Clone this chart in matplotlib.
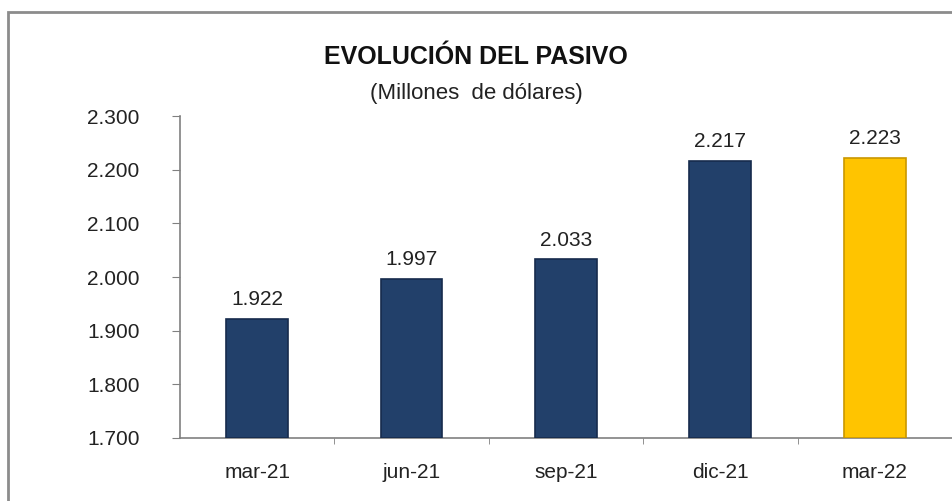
import matplotlib
matplotlib.use("Agg")
import matplotlib.pyplot as plt
from matplotlib.patches import Rectangle
from matplotlib import font_manager

# data
periods = ["mar-21", "jun-21", "sep-21", "dic-21", "mar-22"]
pasivo = [1922, 1997, 2033, 2217, 2223]
bar_colors = ["#22406A", "#22406A", "#22406A", "#22406A", "#FFC400"]
edge_colors = ["#162B4D", "#162B4D", "#162B4D", "#162B4D", "#C99700"]
y_ticks = [1700, 1800, 1900, 2000, 2100, 2200, 2300]

names = {f.name for f in font_manager.fontManager.ttflist}
font = "Liberation Sans Narrow" if "Liberation Sans Narrow" in names else "Liberation Sans"
plt.rcParams["font.family"] = [font, "DejaVu Sans"]


def fmt(v):
    return f"{v:,}".replace(",", ".")


fig = plt.figure(figsize=(9.52, 5.01), dpi=100)
ax = fig.add_axes([0.189, 0.126, 0.811, 0.642])

x = list(range(len(periods)))
ax.bar(x, [v - 1700 for v in pasivo], bottom=1700, width=0.4,
       color=bar_colors, edgecolor=edge_colors, linewidth=1.2, zorder=3)
for xi, v in zip(x, pasivo):
    ax.text(xi, v + 18, fmt(v), ha="center", va="bottom",
            fontsize=15, color="#222222")

ax.set_xlim(-0.5, len(periods) - 0.5)
ax.set_ylim(1700, 2300)
ax.set_yticks(y_ticks)
ax.set_yticklabels([fmt(t) for t in y_ticks], fontsize=15, color="#222222")
ax.set_xticks(x)
ax.set_xticklabels(periods, fontsize=15, color="#222222")
ax.tick_params(axis="x", length=0, pad=18)
ax.set_xticks([i + 0.5 for i in x[:-1]], minor=True)
ax.tick_params(axis="x", which="minor", length=4, color="#808080", direction="out")
ax.tick_params(axis="y", length=6, color="#808080", pad=23, direction="out")

for s in ("top", "right"):
    ax.spines[s].set_visible(False)
for s in ("left", "bottom"):
    ax.spines[s].set_color("#808080")
    ax.spines[s].set_linewidth(1.2)

fig.text(0.5, 0.886, "EVOLUCIÓN DEL PASIVO", ha="center", va="center",
         fontsize=18, fontweight="bold", color="#111111")
fig.text(0.5, 0.814, "(Millones  de dólares)", ha="center", va="center",
         fontsize=16, color="#222222")

# outer chart frame (cropped at right and bottom)
fig.patches.append(Rectangle((0.008, -0.05), 1.1, 1.026, transform=fig.transFigure,
                             fill=False, edgecolor="#8C8C8C", linewidth=2))

fig.savefig("out.png", dpi=100)
